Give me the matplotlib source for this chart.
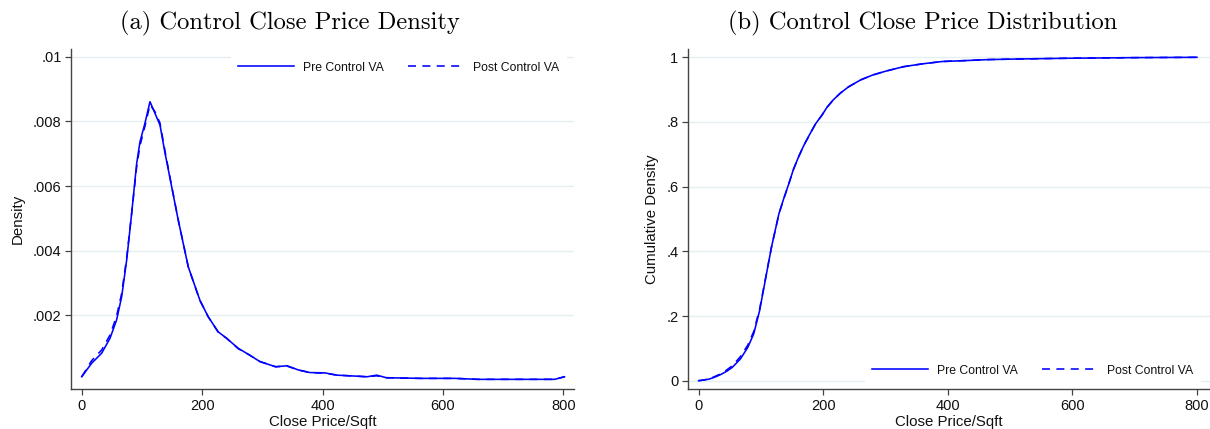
import matplotlib
matplotlib.use("Agg")
import matplotlib.pyplot as plt

plt.rcParams['font.family'] = ['Liberation Sans', 'DejaVu Sans']

# ---------------- data ----------------
dens_x = [0, 16.6, 33.2, 47, 58, 66.4, 74.7, 83, 91.3, 96.8, 105, 113.4, 121.7, 130,
          138, 149.4, 160.3, 177, 196.3, 210, 226.7, 240.7, 260, 279, 296, 322, 341,
          360, 379, 404, 424, 455, 474, 490, 506, 563, 620, 658, 785.6, 802]
dens_pre = [0.0001, 0.00052, 0.00083, 0.00129, 0.00186, 0.00258, 0.00371, 0.00516,
            0.0067, 0.00737, 0.00794, 0.00861, 0.00825, 0.00789, 0.00706, 0.00598,
            0.00495, 0.0035, 0.00247, 0.00196, 0.00149, 0.00129, 0.00098, 0.00077,
            0.00057, 0.00041, 0.00044, 0.00031, 0.00023, 0.00022, 0.00015, 0.00012,
            0.0001, 0.00015, 0.00007, 0.00005, 0.00005, 0.00002, 0.00002, 0.0001]
dens_post = [0.0001, 0.00060, 0.00093, 0.00139, 0.00198, 0.00268, 0.00378, 0.00516,
             0.0066, 0.00725, 0.00785, 0.00852, 0.00830, 0.00795, 0.00712, 0.00600,
             0.00496, 0.0035, 0.00246, 0.00196, 0.00148, 0.00129, 0.00097, 0.00077,
             0.00057, 0.00041, 0.00043, 0.00031, 0.00023, 0.00021, 0.00015, 0.00012,
             0.0001, 0.00013, 0.00007, 0.00005, 0.00005, 0.00002, 0.00002, 0.0001]

cdf_x = [0, 8, 17, 26, 35.5, 45, 54, 67, 79, 88.5, 98, 107, 117, 129, 137, 145, 152,
         160, 169, 179, 188, 198, 206, 216, 228, 241, 260, 279, 300, 329, 360, 391,
         430, 466, 520, 590, 700, 800]
cdf_pre = [0, 0.002, 0.005, 0.011, 0.019, 0.029, 0.041, 0.067, 0.103, 0.145, 0.217,
           0.31, 0.413, 0.517, 0.565, 0.61, 0.652, 0.69, 0.728, 0.764, 0.795, 0.821,
           0.845, 0.868, 0.89, 0.909, 0.93, 0.945, 0.957, 0.971, 0.98, 0.987, 0.99,
           0.993, 0.995, 0.997, 0.999, 1.0]
cdf_post = [0, 0.002, 0.006, 0.013, 0.021, 0.033, 0.046, 0.074, 0.11, 0.152, 0.222,
            0.312, 0.413, 0.516, 0.564, 0.61, 0.652, 0.69, 0.728, 0.764, 0.795, 0.821,
            0.845, 0.868, 0.89, 0.909, 0.93, 0.945, 0.957, 0.971, 0.98, 0.987, 0.99,
            0.993, 0.995, 0.997, 0.999, 1.0]

x_ticks = [0, 200, 400, 600, 800]
x_ticklabels = ['0', '200', '400', '600', '800']
dens_yticks = [0.002, 0.004, 0.006, 0.008, 0.01]
dens_yticklabels = ['.002', '.004', '.006', '.008', '.01']
cdf_yticks = [0, 0.2, 0.4, 0.6, 0.8, 1.0]
cdf_yticklabels = ['0', '.2', '.4', '.6', '.8', '1']

series_labels = ['Pre Control VA', 'Post Control VA']
titles = ['(a) Control Close Price Density', '(b) Control Close Price Distribution']
xlabel = 'Close Price/Sqft'
ylabels = ['Density', 'Cumulative Density']

# ---------------- figure ----------------
W, H = 1210, 429
fig = plt.figure(figsize=(W / 100, H / 100), dpi=100)

def px_axes(l, r, t, b):
    return fig.add_axes([l / W, 1 - b / H, (r - l) / W, (b - t) / H])

axA = px_axes(71, 574, 49, 389.3)
axB = px_axes(687.7, 1210, 49, 389.3)

blue = '#0000ff'
grid_c = '#e6eff0'
spine_c = '#444444'

def style(ax, yticks, yticklabels, ylim, ylabel, ylabelpad):
    ax.set_ylim(*ylim)
    ax.set_xticks(x_ticks)
    ax.set_xticklabels(x_ticklabels)
    ax.set_yticks(yticks)
    ax.set_yticklabels(yticklabels)
    for s in ['top', 'right']:
        ax.spines[s].set_visible(False)
    for s in ['left', 'bottom']:
        ax.spines[s].set_color(spine_c)
        ax.spines[s].set_linewidth(1.0)
    ax.tick_params(axis='both', length=4.3, width=0.9, color=spine_c,
                   labelsize=10.5, pad=2.5, labelcolor='#111111')
    ax.yaxis.grid(True, color=grid_c, linewidth=1.0)
    ax.set_axisbelow(True)
    ax.set_xlabel(xlabel, fontsize=10.8, labelpad=1.5, color='#111111')
    ax.set_ylabel(ylabel, fontsize=10.8, labelpad=ylabelpad, color='#111111')

# Panel (a)
axA.plot(dens_x, dens_pre, color=blue, lw=1.15, label=series_labels[0])
axA.plot(dens_x, dens_post, color=blue, lw=1.15, ls=(0, (5, 4)), label=series_labels[1])
style(axA, dens_yticks, dens_yticklabels, (-0.000288, 0.01024), ylabels[0], 6)
axA.set_xlim(-17.8, 817.8)

# Panel (b)
axB.plot(cdf_x, cdf_pre, color=blue, lw=1.15, label=series_labels[0])
axB.plot(cdf_x, cdf_post, color=blue, lw=1.15, ls=(0, (5, 4)), label=series_labels[1])
style(axB, cdf_yticks, cdf_yticklabels, (-0.0266, 1.0257), ylabels[1], 5)
axB.set_xlim(-17.5, 821)

leg_kw = dict(loc='center', ncol=2, frameon=True, fancybox=False, framealpha=1,
              facecolor='white', edgecolor='none', fontsize=8.8, handlelength=4.6,
              handletextpad=0.75, columnspacing=1.95, borderpad=0.6, borderaxespad=0)
legA = axA.legend(bbox_to_anchor=(0.6515, 0.945), **leg_kw)
legB = axB.legend(bbox_to_anchor=(0.6605, 0.0547), **leg_kw)
for leg in (legA, legB):
    for t in leg.get_texts():
        t.set_color('#111111')

# Titles (serif, Computer Modern)
fig.text(290 / W, 1 - 29.3 / H, titles[0], family='cmr10', fontsize=17.7,
         ha='center', va='baseline')
fig.text(923 / W, 1 - 29.3 / H, titles[1], family='cmr10', fontsize=17.7,
         ha='center', va='baseline')

fig.savefig('out.png', dpi=100)
